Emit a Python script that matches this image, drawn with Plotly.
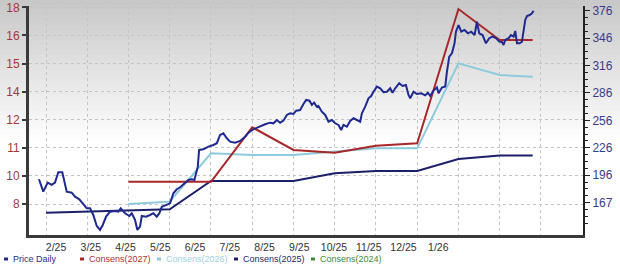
import plotly.graph_objects as go

# ---------------- data ----------------
# time axis: months since Jan 2025 (0 = Jan 2025 ... 12 = Jan 2026)
eps_t = [0, 1, 2, 3, 4, 5, 6, 7, 8, 9, 10, 11, 11.8]
cons_2027 = [None, None, 9.13, 9.13, 9.13, 11.90, 10.75, 10.61, 10.96, 11.09, 17.91, 16.34, 16.34]
cons_2026 = [None, None, 8.00, 8.12, 10.58, 10.49, 10.49, 10.66, 10.83, 10.83, 15.15, 14.56, 14.47]
cons_2025 = [7.56, 7.61, 7.67, 7.73, 9.17, 9.17, 9.17, 9.56, 9.68, 9.68, 10.29, 10.46, 10.46]
cons_2024 = []

price_t = [-0.170, -0.066, 0.041, 0.138, 0.218, 0.298, 0.395, 0.502, 0.623, 0.704,
           0.808, 0.905, 0.987, 1.067, 1.147, 1.230, 1.310, 1.376, 1.456, 1.553,
           1.674, 1.754, 1.812, 1.917, 2.021, 2.079, 2.159, 2.215, 2.280, 2.322,
           2.426, 2.523, 2.603, 2.686, 2.749, 2.807, 2.928, 3.008, 3.088, 3.171,
           3.251, 3.355, 3.452, 3.535, 3.598, 3.680, 3.712, 3.816, 3.937, 4.059,
           4.141, 4.221, 4.301, 4.384, 4.464, 4.585, 4.706, 4.828, 4.908, 5.029,
           5.112, 5.192, 5.313, 5.434, 5.514, 5.597, 5.677, 5.757, 5.839, 5.919,
           6.000, 6.065, 6.162, 6.242, 6.308, 6.388, 6.446, 6.502, 6.567, 6.606,
           6.688, 6.769, 6.849, 6.931, 7.011, 7.091, 7.157, 7.212, 7.295, 7.375,
           7.455, 7.538, 7.618, 7.659, 7.739, 7.819, 7.884, 7.940, 8.023, 8.103,
           8.183, 8.265, 8.345, 8.401, 8.467, 8.564, 8.644, 8.726, 8.789, 8.831,
           8.911, 8.993, 9.098, 9.195, 9.260, 9.316, 9.396, 9.478, 9.517, 9.600,
           9.680, 9.721, 9.777, 9.842, 9.905, 9.939, 10.002, 10.068, 10.148, 10.230,
           10.310, 10.391, 10.449, 10.504, 10.585, 10.667, 10.747, 10.827, 10.910, 10.990,
           11.055, 11.094, 11.135, 11.215, 11.274, 11.337, 11.378, 11.419, 11.482, 11.540,
           11.579, 11.620, 11.662, 11.725, 11.783, 11.822]
price = [192.1, 178.6, 188.4, 185.9, 188.4, 199.7, 199.7, 178.6, 177.5, 173.1,
         170.3, 165.2, 160.5, 160.5, 153.2, 141.2, 136.9, 142.3, 151.4, 156.8,
         157.6, 156.8, 160.5, 155.1, 152.1, 155.1, 147.8, 136.9, 140.5, 152.1,
         151.4, 153.2, 155.1, 151.4, 155.1, 162.2, 164.1, 165.9, 176.8, 181.2,
         183.4, 187.7, 191.3, 192.1, 191.3, 205.8, 224.0, 224.7, 227.6, 229.4,
         231.3, 240.3, 242.1, 236.7, 233.0, 231.9, 233.8, 238.4, 242.8, 246.5,
         248.2, 250.1, 251.9, 253.7, 253.0, 256.6, 253.7, 255.9, 262.1, 263.9,
         263.2, 266.7, 267.5, 274.0, 278.4, 277.6, 273.0, 275.5, 271.1, 271.9,
         265.7, 262.1, 254.8, 256.6, 253.0, 251.2, 245.7, 251.2, 249.3, 255.5,
         258.5, 256.6, 254.8, 263.9, 271.1, 280.2, 282.7, 287.4, 292.9, 291.1,
         286.8, 287.4, 291.1, 286.3, 291.1, 296.6, 293.6, 294.7, 283.8, 280.2,
         287.4, 284.9, 285.7, 283.5, 286.3, 282.7, 288.7, 292.2, 285.7, 292.0,
         293.1, 309.2, 325.5, 329.2, 340.1, 352.7, 360.0, 352.7, 354.6, 351.0,
         352.7, 349.1, 363.6, 351.0, 349.1, 340.1, 345.6, 347.5, 345.9, 341.9,
         341.5, 338.3, 343.7, 345.6, 349.1, 347.3, 353.5, 340.1, 340.1, 341.9,
         356.4, 365.5, 369.8, 370.9, 372.8, 375.6]

x_labels = ["2/25", "3/25", "4/25", "5/25", "6/25", "7/25", "8/25", "9/25",
            "10/25", "11/25", "12/25", "1/26"]
left_labels = ["8", "10", "11", "12", "14", "15", "16", "18"]
right_labels = ["167", "196", "226", "256", "286", "316", "346", "376"]

# ---------------- styling ----------------
C_PRICE = "#1f2a90"
C_2027 = "#a8282a"
C_2026 = "#8ccbdd"
C_2025 = "#1c1f6a"
C_2024 = "#3a8a3a"
FONT = "Arial, Liberation Sans, sans-serif"

W, H = 620, 276
ML, MR, MT, MB = 29, 37, 6, 41
PW = W - ML - MR
PH = H - MT - MB

fig = go.Figure()

fig.add_trace(go.Scatter(x=eps_t, y=cons_2025, mode="lines", name="Consens(2025)",
                         line=dict(color=C_2025, width=2), yaxis="y"))
fig.add_trace(go.Scatter(x=eps_t, y=cons_2026, mode="lines", name="Consens(2026)",
                         line=dict(color=C_2026, width=2), yaxis="y"))
fig.add_trace(go.Scatter(x=eps_t, y=cons_2027, mode="lines", name="Consens(2027)",
                         line=dict(color=C_2027, width=2), yaxis="y"))
fig.add_trace(go.Scatter(x=price_t, y=price, mode="lines", name="Price Daily",
                         line=dict(color=C_PRICE, width=2), yaxis="y2"))

# axis ranges
x_range = [-0.4124, 13.02]
left_range = [6.424, 18.066]
right_range = [131.4, 380.7]

left_tickvals = [8 + k * 10 / 7 for k in range(8)]
right_step = 209 / 7
right_tickvals = [166.6 + k * right_step for k in range(8)]
right_minor = [166.6 + k * right_step / 4 for k in range(-4, 29) if k % 4 != 0]
label_pos = [0.243 + k * 0.8425 for k in range(len(x_labels))]

fig.update_layout(
    width=W, height=H,
    margin=dict(l=ML, r=MR, t=MT, b=MB, pad=0, autoexpand=False),
    paper_bgcolor="white",
    plot_bgcolor="rgba(0,0,0,0)",
    showlegend=False,
    font=dict(family=FONT),
    xaxis=dict(
        range=x_range, showgrid=False, zeroline=False, automargin=False,
        tickmode="array", tickvals=label_pos, ticktext=x_labels,
        ticks="", ticklen=0,
        tickfont=dict(size=10.5, color="#333333", family=FONT),
        showline=True, linecolor="#3a3a3a", linewidth=3,
        minor=dict(tickmode="array", tickvals=list(range(13)), showgrid=True,
                   gridcolor="#c4c4c4", griddash="dot", gridwidth=1, ticks=""),
    ),
    yaxis=dict(
        range=left_range, side="left", zeroline=False, automargin=False,
        tickmode="array", tickvals=left_tickvals, ticktext=left_labels,
        ticks="outside", ticklen=4, tickwidth=2, tickcolor="#3a3a3a",
        tickfont=dict(size=12, color="#a03a3a", family=FONT),
        showgrid=True, gridcolor="#c4c4c4", griddash="dot", gridwidth=1,
        showline=True, linecolor="#3a3a3a", linewidth=3,
    ),
    yaxis2=dict(
        range=right_range, side="right", overlaying="y", zeroline=False, automargin=False,
        tickmode="array", tickvals=right_tickvals, ticktext=right_labels,
        ticks="outside", ticklen=5, tickwidth=1, tickcolor="#222222",
        tickfont=dict(size=12, color="#3a3a8a", family=FONT),
        showgrid=False,
        showline=True, linecolor="#222222", linewidth=2,
        minor=dict(tickmode="array", tickvals=right_minor, ticks="outside",
                   ticklen=3, tickwidth=1, tickcolor="#222222", showgrid=False),
    ),
)

# gradient background (top grey fading to white)
shapes = []
n_bands = 28
band_px = 5
for i in range(n_bands):
    y_top = i * band_px
    y_bot = (i + 1) * band_px
    v = int(round(200 + (255 - 200) * (i / n_bands)))
    col = f"rgb({v},{v},{v})"
    shapes.append(dict(type="rect", xref="paper", yref="paper",
                       x0=-0.06, x1=1.08,
                       y0=(H - MB - y_bot) / PH, y1=(H - MB - y_top) / PH,
                       fillcolor=col, line=dict(width=0), layer="below"))

# legend (drawn as colored dash + text)
legend_items = [("Price Daily", C_PRICE, "#2a2a8a", 4),
                ("Consens(2027)", C_2027, "#a83030", 80),
                ("Consens(2026)", C_2026, "#9fd2e2", 157),
                ("Consens(2025)", C_2025, "#1c1f6a", 234),
                ("Consens(2024)", C_2024, "#3a8a3a", 311)]
ly = (H - MB - 259) / PH
annotations = []
for name, lc, tc, px in legend_items:
    x0 = (px - ML) / PW
    x1 = (px + 4 - ML) / PW
    shapes.append(dict(type="line", xref="paper", yref="paper", x0=x0, x1=x1,
                       y0=ly, y1=ly, line=dict(color=lc, width=3)))
    annotations.append(dict(xref="paper", yref="paper", x=(px + 8 - ML) / PW, y=ly,
                            xanchor="left", yanchor="middle", showarrow=False,
                            borderpad=0,
                            text=name, font=dict(size=9, color=tc, family=FONT)))

fig.update_layout(shapes=shapes, annotations=annotations)

fig.write_html("out.html")
